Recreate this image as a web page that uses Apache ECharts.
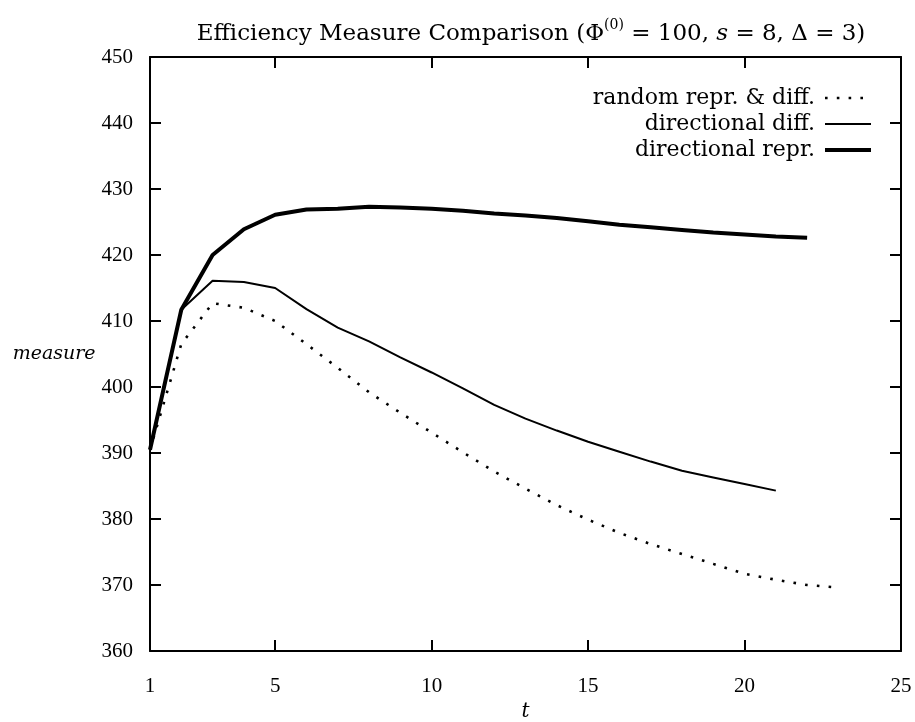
<!DOCTYPE html>
<html>
<head>
<meta charset="utf-8">
<script src="https://cdn.jsdelivr.net/npm/echarts@6/dist/echarts.min.js"></script>
<style>
  html, body { margin: 0; padding: 0; background: #fff; }
  #chart { width: 915px; height: 722px; }
</style>
</head>
<body>
<div id="chart"></div>
<script>
// values (t = 1, 2, 3, ...)
var tRandom = [1, 2, 3, 4, 5, 6, 7, 8, 9, 10, 11, 12, 13, 14, 15, 16, 17, 18, 19, 20, 21, 22, 23];
var randomReprDiff = [390.5, 406.5, 412.7, 412.0, 410.0, 406.5, 402.9, 399.2, 396.1, 393.1, 390.1, 387.2,
    384.6, 382.1, 379.9, 377.9, 376.2, 374.7, 373.2, 371.7, 370.8, 370.0, 369.6];

var tDiff = [1, 2, 3, 4, 5, 6, 7, 8, 9, 10, 11, 12, 13, 14, 15, 16, 17, 18, 19, 20, 21];
var directionalDiff = [390.5, 411.7, 416.1, 415.9, 415.0, 411.8, 409.0, 406.9, 404.5, 402.2, 399.8,
    397.3, 395.2, 393.4, 391.7, 390.2, 388.7, 387.3, 386.3, 385.3, 384.3];

var tRepr = [1, 2, 3, 4, 5, 6, 7, 8, 9, 10, 11, 12, 13, 14, 15, 16, 17, 18, 19, 20, 21, 22];
var directionalRepr = [390.5, 411.7, 420.0, 423.9, 426.1, 426.9, 427.0, 427.3, 427.2, 427.0, 426.7,
    426.3, 426.0, 425.6, 425.1, 424.6, 424.2, 423.8, 423.4, 423.1, 422.8, 422.6];

var xLabels = [1, 5, 10, 15, 20, 25];
var xTicks = [5, 10, 15, 20];

function pairs(ts, vs) {
    return ts.map(function (t, i) { return [t, vs[i]]; });
}

var numFont = 'Liberation Serif';
var textFont = 'DejaVu Serif';
var chartDom = document.getElementById('chart');
var myChart = echarts.init(chartDom);
var option;

var frameLine = { show: true, lineStyle: { color: '#000', width: 2 } };
var innerTick = { show: true, inside: true, length: 11, lineStyle: { color: '#000', width: 2 } };

var dottedStyle = { color: '#000', width: 2.6, type: [2.6, 9.2], cap: 'butt' };
var thinStyle = { color: '#000', width: 2 };
var thickStyle = { color: '#000', width: 4 };

option = {
    animation: false,
    backgroundColor: '#fff',
    textStyle: { fontFamily: textFont, color: '#000' },
    title: {
        text: '{n|Efficiency Measure Comparison (Φ}{sup|(0)}{n| = 100, }{i|s}{n| = 8, Δ = 3)}',
        left: 526,
        textAlign: 'center',
        top: 13,
        textStyle: {
            fontWeight: 'normal',
            rich: {
                n: { fontFamily: textFont, fontSize: 23, color: '#000', lineHeight: 28, verticalAlign: 'bottom' },
                i: { fontFamily: textFont, fontSize: 23, color: '#000', fontStyle: 'italic', lineHeight: 28, verticalAlign: 'bottom' },
                sup: { fontFamily: textFont, fontSize: 14, color: '#000', lineHeight: 14, verticalAlign: 'top' }
            }
        }
    },
    legend: {
        orient: 'vertical',
        right: 42,
        top: 87,
        padding: 0,
        align: 'right',
        itemWidth: 46,
        itemHeight: 14,
        itemGap: 4,
        itemStyle: { opacity: 0 },
        textStyle: { fontFamily: textFont, fontSize: 22, color: '#000', lineHeight: 22, padding: [0, 5, 0, 0] },
        data: [
            { name: 'random repr. & diff.', lineStyle: { width: 2.6 } },
            { name: 'directional diff.', lineStyle: { width: 2 } },
            { name: 'directional repr.', lineStyle: { width: 4 } }
        ]
    },
    grid: {
        left: 150,
        right: 14,
        top: 57,
        bottom: 71,
        outerBoundsMode: 'none'
    },
    xAxis: [
        {
            type: 'value',
            min: 1,
            max: 25,
            name: 't',
            nameLocation: 'middle',
            nameGap: 42,
            nameTextStyle: { fontFamily: textFont, fontSize: 20, fontStyle: 'italic', color: '#000' },
            axisLine: frameLine,
            axisTick: Object.assign({ customValues: xTicks }, innerTick),
            axisLabel: { customValues: xLabels, margin: 25, fontFamily: numFont, fontSize: 21, color: '#000' },
            splitLine: { show: false }
        },
        {
            type: 'value',
            position: 'top',
            min: 1,
            max: 25,
            axisLine: frameLine,
            axisTick: Object.assign({ customValues: xTicks }, innerTick),
            axisLabel: { show: false },
            splitLine: { show: false }
        }
    ],
    yAxis: [
        {
            type: 'value',
            min: 360,
            max: 450,
            interval: 10,
            name: 'measure',
            nameLocation: 'middle',
            nameRotate: 0,
            nameGap: 50,
            nameTextStyle: { fontFamily: textFont, fontSize: 19, fontStyle: 'italic', color: '#000', align: 'right' },
            axisLine: frameLine,
            axisTick: innerTick,
            axisLabel: { margin: 17, fontFamily: numFont, fontSize: 21, color: '#000' },
            splitLine: { show: false }
        },
        {
            type: 'value',
            position: 'right',
            min: 360,
            max: 450,
            interval: 10,
            axisLine: frameLine,
            axisTick: innerTick,
            axisLabel: { show: false },
            splitLine: { show: false }
        }
    ],
    series: [
        {
            name: 'random repr. & diff.',
            type: 'line',
            symbol: 'none',
            data: pairs(tRandom, randomReprDiff),
            lineStyle: dottedStyle,
            itemStyle: { color: '#000' }
        },
        {
            name: 'directional diff.',
            type: 'line',
            symbol: 'none',
            data: pairs(tDiff, directionalDiff),
            lineStyle: thinStyle,
            itemStyle: { color: '#000' }
        },
        {
            name: 'directional repr.',
            type: 'line',
            symbol: 'none',
            data: pairs(tRepr, directionalRepr),
            lineStyle: thickStyle,
            itemStyle: { color: '#000' }
        }
    ]
};

option && myChart.setOption(option);
</script>
</body>
</html>
